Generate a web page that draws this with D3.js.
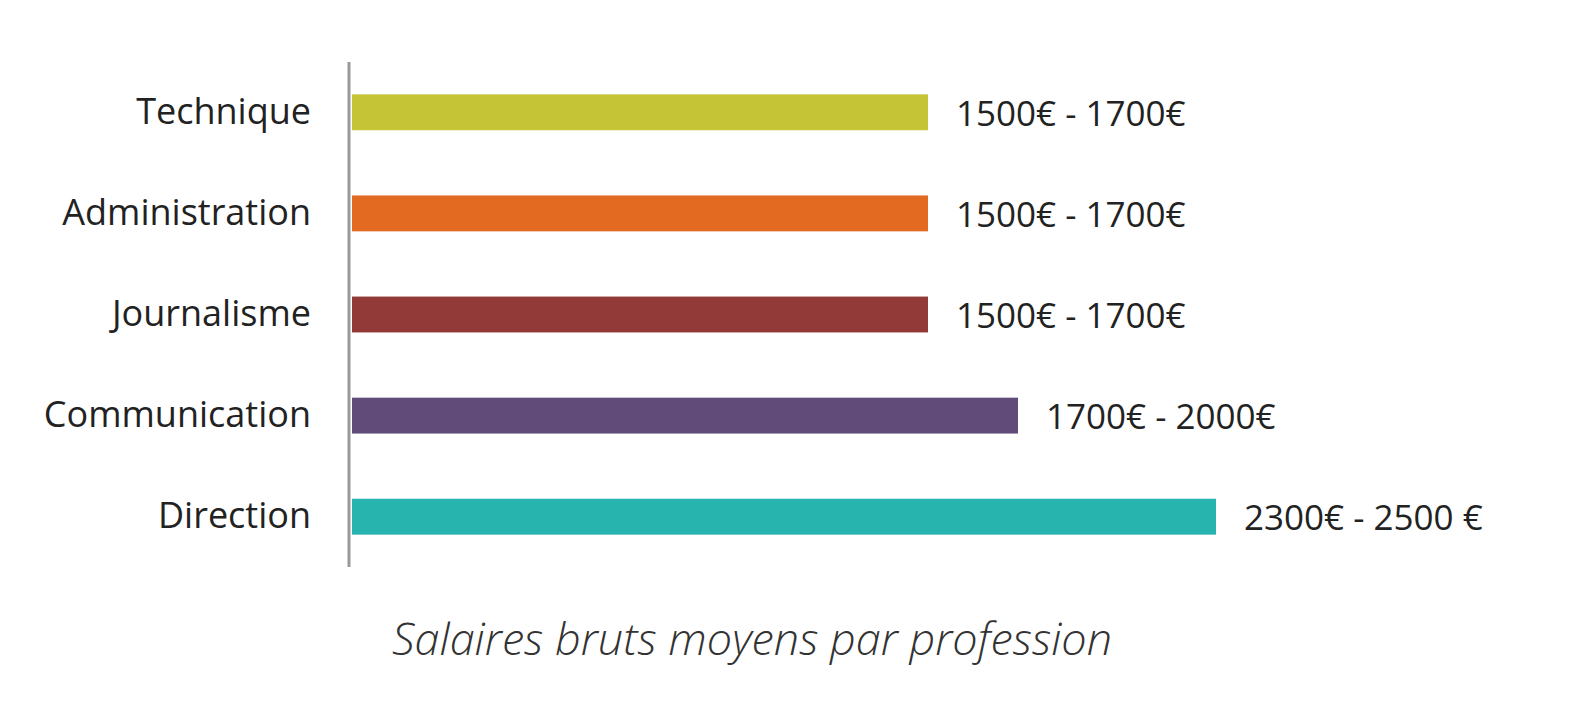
<!DOCTYPE html>
<html><head><meta charset="utf-8">
<script src="https://cdn.jsdelivr.net/npm/d3@7"></script>
<style>body{margin:0;background:#fff}</style></head>
<body><svg id="c" width="1585" height="715"></svg>
<script>
const categories=["Technique","Administration","Journalisme","Communication","Direction"];
const values=[1600,1600,1600,1850,2400];
const valueLabels=["1500€ - 1700€","1500€ - 1700€","1500€ - 1700€","1700€ - 2000€","2300€ - 2500 €"];
const colors=["#c4c436","#e36b21","#923a38","#604b79","#27b3ae"];
const title="Salaires bruts moyens par profession";

const svg=d3.select("#c");
const x=d3.scaleLinear().domain([0,2400]).range([352,1216]);
const y=d3.scaleBand().domain(categories).range([62,567]).paddingInner(0.645).paddingOuter(0.32);
const font="'Open Sans', sans-serif";
svg.selectAll("rect.bar").data(categories).join("rect")
 .attr("x",x(0)).attr("y",d=>y(d)).attr("height",y.bandwidth())
 .attr("width",(d,i)=>x(values[i])-x(0)).attr("fill",(d,i)=>colors[i]);
const ax=svg.append("g").attr("transform","translate(349,0)").call(d3.axisLeft(y).tickSize(0).tickPadding(38));
ax.select(".domain").attr("stroke","#999").attr("stroke-width",3).attr("d","M0,62V567");
ax.selectAll("text").attr("font-family",font).attr("font-size",36).attr("fill","#222");
svg.selectAll("text.v").data(categories).join("text").attr("class","v")
 .attr("x",(d,i)=>x(values[i])+28).attr("y",d=>y(d)+y.bandwidth()/2+4)
 .attr("dominant-baseline","middle").attr("font-family",font).attr("font-size",35).attr("fill","#222")
 .text((d,i)=>valueLabels[i]);
svg.append("text").attr("x",752).attr("y",655).attr("text-anchor","middle")
 .attr("font-family",font).attr("font-style","italic").attr("font-weight",300).attr("font-size",45).attr("fill","#333").text(title);
</script></body></html>
